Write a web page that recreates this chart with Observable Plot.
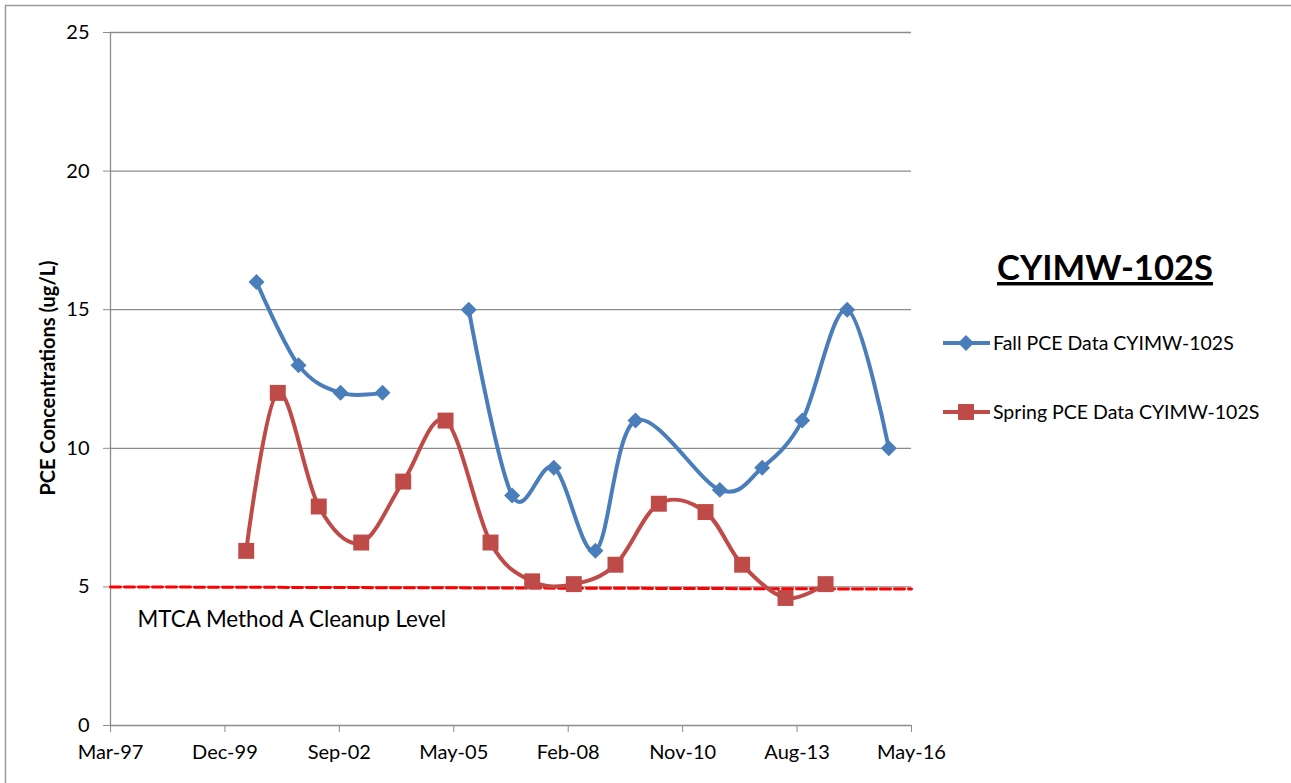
<!DOCTYPE html>
<html>
<head>
<meta charset="utf-8">
<script src="https://cdn.jsdelivr.net/npm/d3@7"></script>
<script src="https://cdn.jsdelivr.net/npm/@observablehq/plot@0.6"></script>
<style>
  html, body { margin: 0; padding: 0; background: #fff; }
  svg { display: block; }
</style>
</head>
<body>
<div id="chart"></div>
<script>
// ---- data ----
const fallDates  = ["2000-09-07","2001-09-09","2002-09-11","2003-09-13","2004-09-15","2005-10-06","2006-10-20","2007-10-19","2008-10-17","2009-10-02","2011-10-09","2012-10-13","2013-09-28","2014-10-26","2015-10-25"];
const fallValues = [16, 13, 12, 12, null, 15, 8.3, 9.3, 6.3, 11, 8.5, 9.3, 11, 15, 10];

const springDates  = ["2000-06-09","2001-03-12","2002-03-05","2003-03-11","2004-03-12","2005-03-17","2006-04-14","2007-04-13","2008-04-11","2009-04-10","2010-04-24","2011-06-06","2012-04-21","2013-05-05","2014-04-20"];
const springValues = [6.3, 12, 7.9, 6.6, 8.8, 11, 6.6, 5.2, 5.1, 5.8, 8.0, 7.7, 5.8, 4.6, 5.1];

const cleanupDates  = ["1997-03-11","2016-05-10"];
const cleanupValues = [5.0, 4.92];
const cleanupLabel = "MTCA Method A Cleanup Level";

const xTickDates  = ["1997-03-11","1999-12-06","2002-09-01","2005-05-28","2008-02-22","2010-11-18","2013-08-14","2016-05-10"];
const xTickLabels = ["Mar-97","Dec-99","Sep-02","May-05","Feb-08","Nov-10","Aug-13","May-16"];
const yTicks = [0, 5, 10, 15, 20, 25];

const seriesNames = ["Fall PCE Data CYIMW-102S", "Spring PCE Data CYIMW-102S"];
const chartTitle = "CYIMW-102S";
const yTitle = "PCE Concentrations (ug/L)";

// ---- build tables ----
const parse = d3.utcParse("%Y-%m-%d");
const fall = fallDates.map((d, i) => ({date: parse(d), value: fallValues[i]}));
const spring = springDates.map((d, i) => ({date: parse(d), value: springValues[i]}));
const cleanup = cleanupDates.map((d, i) => ({date: parse(d), value: cleanupValues[i]}));
const tickDates = xTickDates.map(parse);

const BLUE = "#4A7EBB", RED = "#BE4B48", GRID = "#8c8c8c";
const FONT = "Lato, 'Open Sans', sans-serif";
const W = 1291, H = 783;

const plot = Plot.plot({
  width: W, height: H,
  marginLeft: 110, marginRight: 380, marginTop: 32, marginBottom: 58,
  style: {fontFamily: FONT, fontSize: "20px", color: "#000", background: "#fff"},
  x: {type: "utc", domain: [tickDates[0], tickDates[tickDates.length - 1]]},
  y: {domain: [0, 25]},
  marks: [
    Plot.ruleY(yTicks.slice(1), {stroke: GRID, strokeWidth: 1.3}),
    Plot.ruleY([0], {stroke: GRID, strokeWidth: 1.3}),
    Plot.ruleX([tickDates[0]], {stroke: GRID, strokeWidth: 1.3}),
    Plot.axisY({ticks: yTicks, tickSize: 7, tickPadding: 14, stroke: GRID, label: null, fontSize: 20}),
    Plot.axisX({ticks: tickDates, tickFormat: (d, i) => xTickLabels[i], tickSize: 7, tickPadding: 12, stroke: GRID, label: null, fontSize: 20}),
    Plot.line(cleanup, {x: "date", y: "value", stroke: "#FF0000", strokeWidth: 3, strokeDasharray: "10,4"}),
    Plot.text([cleanupLabel], {frameAnchor: "bottom-left", dx: 27, dy: -99, textAnchor: "start", fontSize: 22.4, fill: "#000"}),
    Plot.line(spring, {x: "date", y: "value", stroke: RED, strokeWidth: 4, curve: "cardinal", tension: 0}),
    Plot.dot(spring, {x: "date", y: "value", symbol: "square", r: 9, fill: RED, stroke: "none"}),
    Plot.line(fall, {x: "date", y: "value", stroke: BLUE, strokeWidth: 4, curve: "cardinal", tension: 0}),
    Plot.dot(fall, {x: "date", y: "value", symbol: "diamond2", r: 7.2, fill: BLUE, stroke: "none"})
  ]
});

document.getElementById("chart").appendChild(plot);
const svg = d3.select(plot);

// outer chart border
svg.append("rect").attr("x", 5.5).attr("y", 5.5).attr("width", W + 20).attr("height", H + 20)
  .attr("fill", "none").attr("stroke", "#9a9a9a").attr("stroke-width", 1.5);

// y axis title
svg.append("text").attr("transform", "translate(55,378) rotate(-90)")
  .attr("text-anchor", "middle").attr("font-family", FONT).attr("font-weight", "bold")
  .attr("font-size", 20).attr("fill", "#000").text(yTitle);

// legend title
svg.append("text").attr("x", 1105).attr("y", 280).attr("text-anchor", "middle")
  .attr("font-family", FONT).attr("font-weight", "bold").attr("font-size", 34.6)
  .attr("text-decoration", "underline").attr("fill", "#000").text(chartTitle);

// legend entries
const leg = [
  {name: seriesNames[0], color: BLUE, sym: d3.symbolDiamond2, size: Math.PI * 7.2 * 7.2, y: 343},
  {name: seriesNames[1], color: RED, sym: d3.symbolSquare, size: Math.PI * 9 * 9, y: 412}
];
for (const e of leg) {
  svg.append("line").attr("x1", 943).attr("x2", 990).attr("y1", e.y).attr("y2", e.y)
    .attr("stroke", e.color).attr("stroke-width", 4);
  svg.append("path").attr("transform", `translate(966,${e.y})`)
    .attr("d", d3.symbol(e.sym, e.size)()).attr("fill", e.color);
  svg.append("text").attr("x", 993).attr("y", e.y).attr("dy", "0.35em")
    .attr("text-anchor", "start")
    .attr("font-family", FONT).attr("font-size", 19.5).attr("fill", "#000").text(e.name);
}
</script>
</body>
</html>
